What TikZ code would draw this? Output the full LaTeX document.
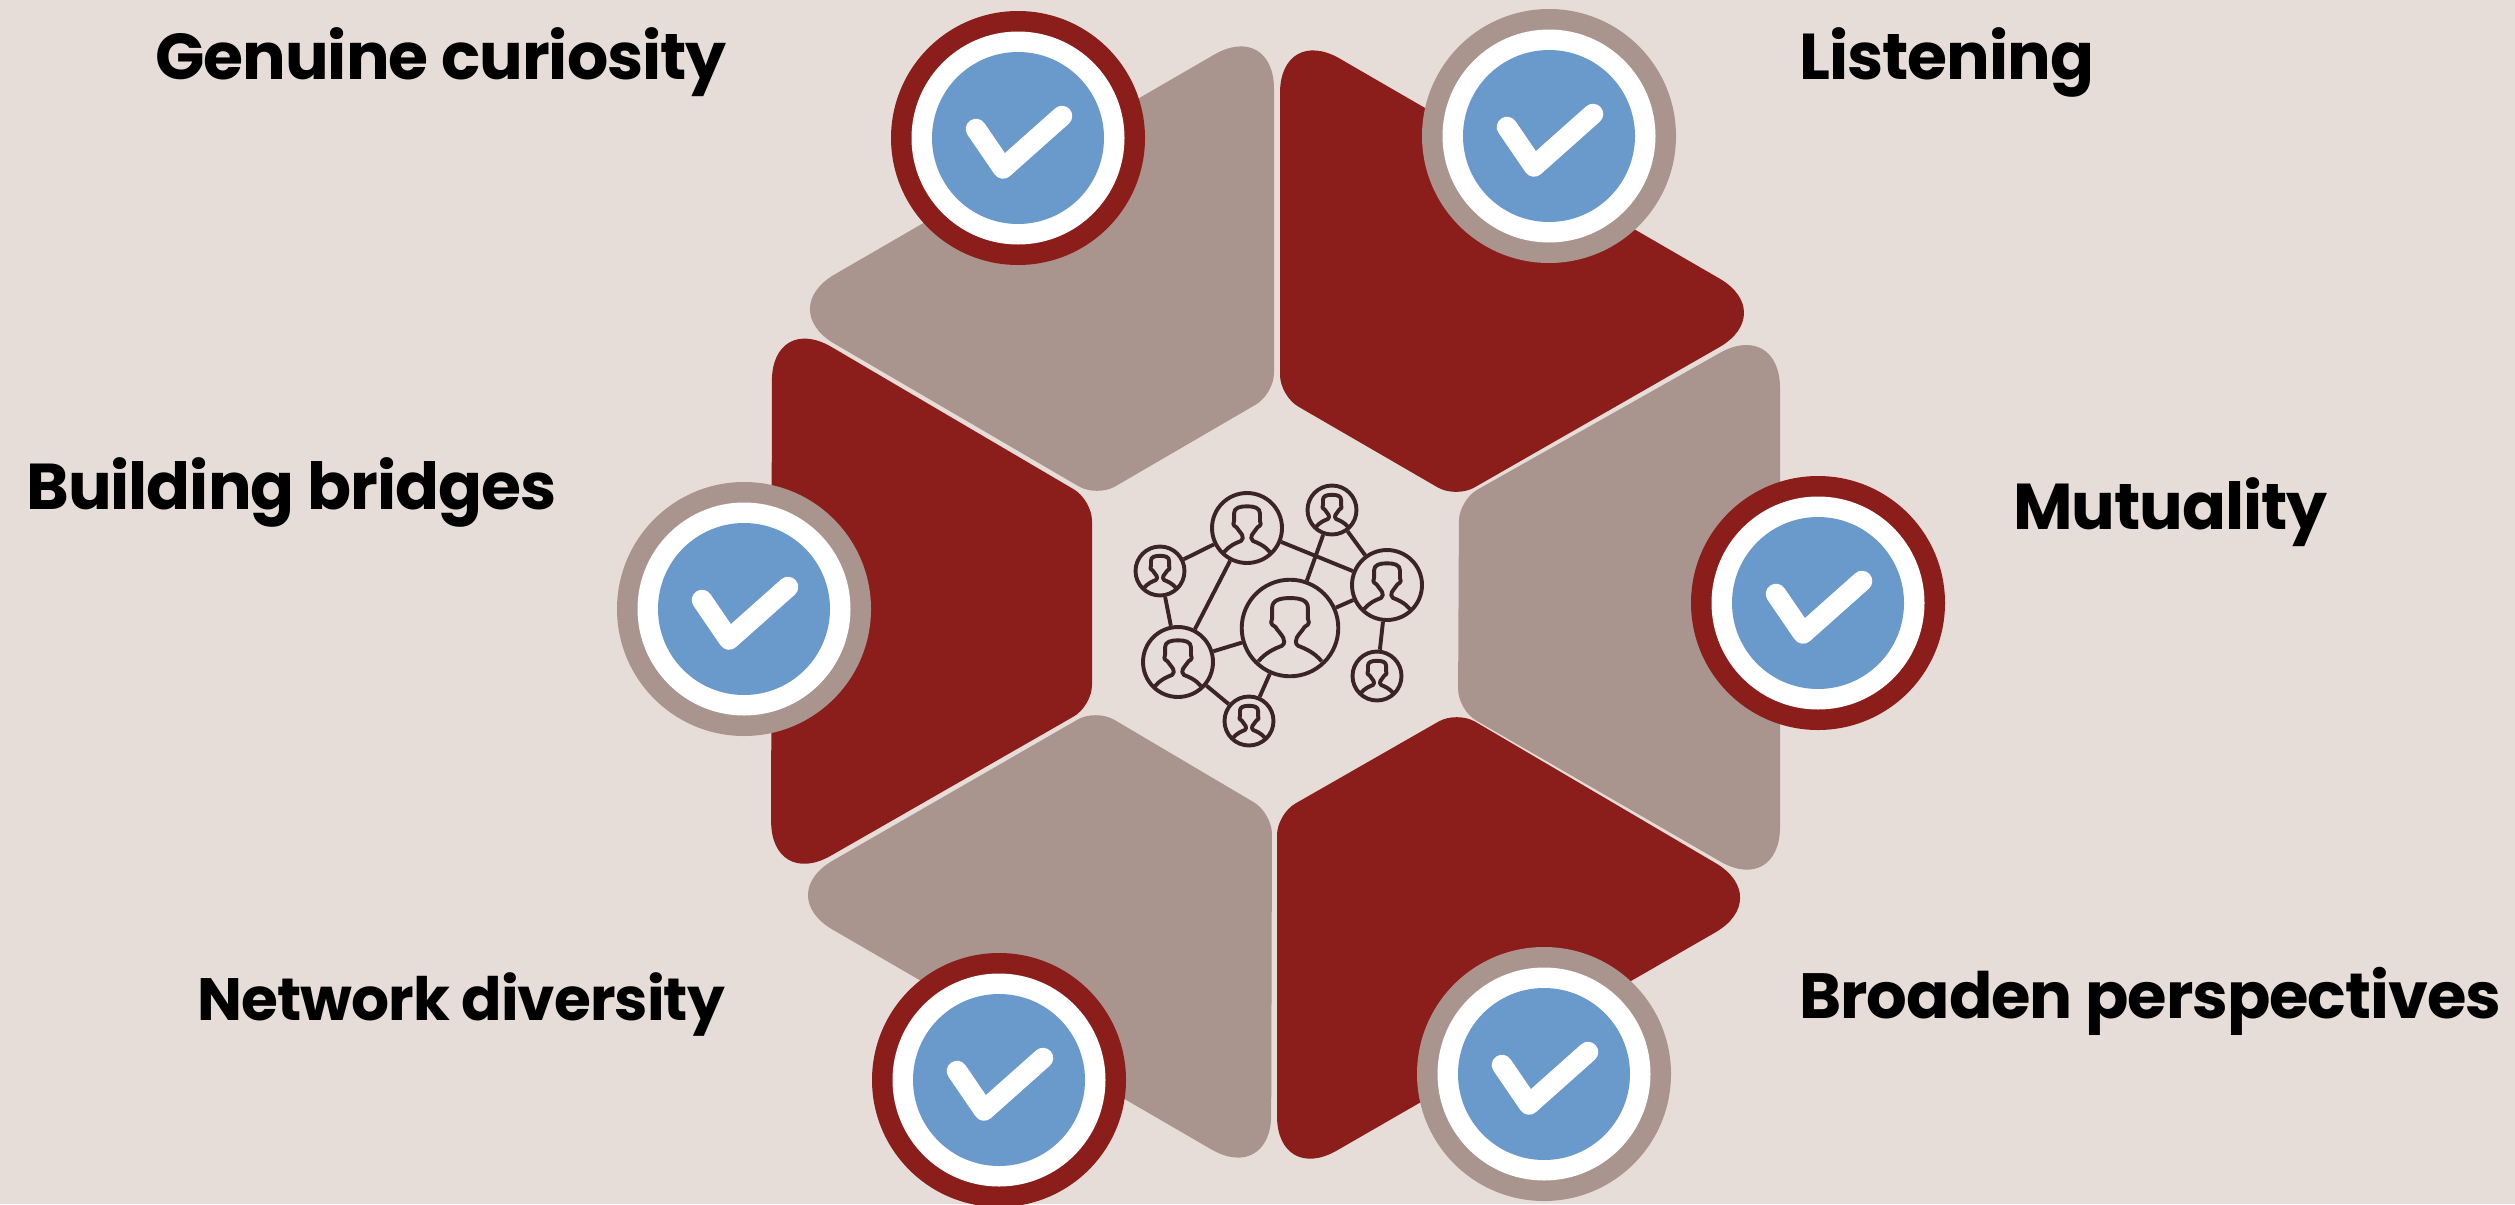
\documentclass[tikz,border=0pt]{standalone}
\usepackage{xcolor}
\usepackage{fontspec}
\setmainfont{Poppins}[LetterSpace=-1.6]
\usepackage{tikz}
\usetikzlibrary{calc}
\definecolor{paper}{HTML}{E6DDD8}
\definecolor{brick}{HTML}{8B1E1B}
\definecolor{taupe}{HTML}{A9948E}
\definecolor{badgeblue}{HTML}{6A9ACB}
\definecolor{iconink}{HTML}{3B2426}
\tikzset{
  person/.style={circle,draw=iconink,line width=.078cm,inner sep=0pt},
  link/.style={draw=iconink,line width=.078cm},
  outline/.style={draw=iconink,line width=.078cm,line join=round},
  checkline/.style={draw=white,line width=.41cm,line cap=round,line join=round},
  heading/.style={anchor=base west,inner sep=0pt,font=\fontsize{36.9}{40}\selectfont\bfseries},
}
\newcommand{\petal}[5]{%
  \fill[#1] ($#3!.5!#4$) [rounded corners=.42cm] -- #4 [rounded corners=1.38cm] -- #5 -- #2 [rounded corners=.42cm] -- #3 -- cycle;}
\begin{document}
\begin{tikzpicture}[x=.02cm,y=-.02cm]
  \useasboundingbox (0,0) rectangle (2515,1204);
  \fill[paper] (0,0) rectangle (2515,1204);
  \petal{taupe}{(1274,20)}{(1274,394)}{(1097,497)}{(775,309)}
  \petal{brick}{(1779,313)}{(1456,498)}{(1280,396)}{(1280,24)}
  \petal{taupe}{(1780,896)}{(1458,710)}{(1459,500)}{(1780,319)}
  \petal{brick}{(1277,1185)}{(1277,814)}{(1457,711)}{(1775,898)}
  \petal{taupe}{(773,895)}{(1096,709)}{(1272,813)}{(1271,1184)}
  \petal{brick}{(772,312)}{(1092,500)}{(1092,706)}{(771,890)}
  \foreach \bx/\by/\ringcol in {1018/138/brick,1549/136/taupe,1818/603/brick,1544/1074/taupe,999/1080/brick,744/609/taupe}{
    \fill[\ringcol] (\bx,\by) circle (127);
    \fill[white] (\bx,\by) circle (106.5);
    \fill[badgeblue] (\bx,\by) circle (86);
    \draw[shift={(\bx,\by)},checkline] (-42,-9) -- (-15,30.5) -- (44,-22);
  }
  \foreach \who/\x/\y/\r in {hub/1290/628/48.3,upper/1247/528/35,top/1332/510/24.5,east/1387/585/35,west/1160/571/24.5,lower/1178/662/35,south/1249/721/24.5,corner/1377/676/24.5}{
    \node[person,minimum size={\r*.04cm}] (\who) at (\x,\y) {};
    \draw[shift={(\who.center)},scale=\r,outline] (-.655,.69) .. controls (-.5,.5) and (-.3,.42) .. (-.17,.37) .. controls (-.1,.33) and (-.12,.25) .. (-.14,.2) .. controls (-.2,.1) and (-.26,.05) .. (-.3,-.02) .. controls (-.42,-.08) and (-.4,-.15) .. (-.37,-.2) -- (-.37,-.42) .. controls (-.37,-.58) and (-.2,-.62) .. (0,-.62) .. controls (.2,-.62) and (.37,-.58) .. (.37,-.42) -- (.37,-.2) .. controls (.4,-.15) and (.42,-.08) .. (.3,-.02) .. controls (.26,.05) and (.2,.1) .. (.14,.2) .. controls (.12,.25) and (.1,.33) .. (.17,.37) .. controls (.3,.42) and (.5,.5) .. (.655,.69);
  }
  \foreach \a/\b in {upper/west,upper/lower,upper/east,west/lower,lower/hub,lower/south,hub/south,hub/top,hub/east,top/east,east/corner}
    \draw[link] (\a) -- (\b);
  \node[heading] (curiosity) at (155,79) {Genuine curiosity};
  \node[heading] (listening) at (1799,79) {Listening};
  \node[heading] (bridges) at (26,509) {Building bridges};
  \node[heading] (mutuality) at (2013,529) {Mutuality};
  \node[heading,font=\fontsize{34}{36}\selectfont\bfseries] (diversity) at (197,1020) {Network diversity};
  \node[heading,font=\fontsize{36.4}{40}\selectfont\bfseries] (perspectives) at (1799,1018) {Broaden perspectives};
\end{tikzpicture}
\end{document}
